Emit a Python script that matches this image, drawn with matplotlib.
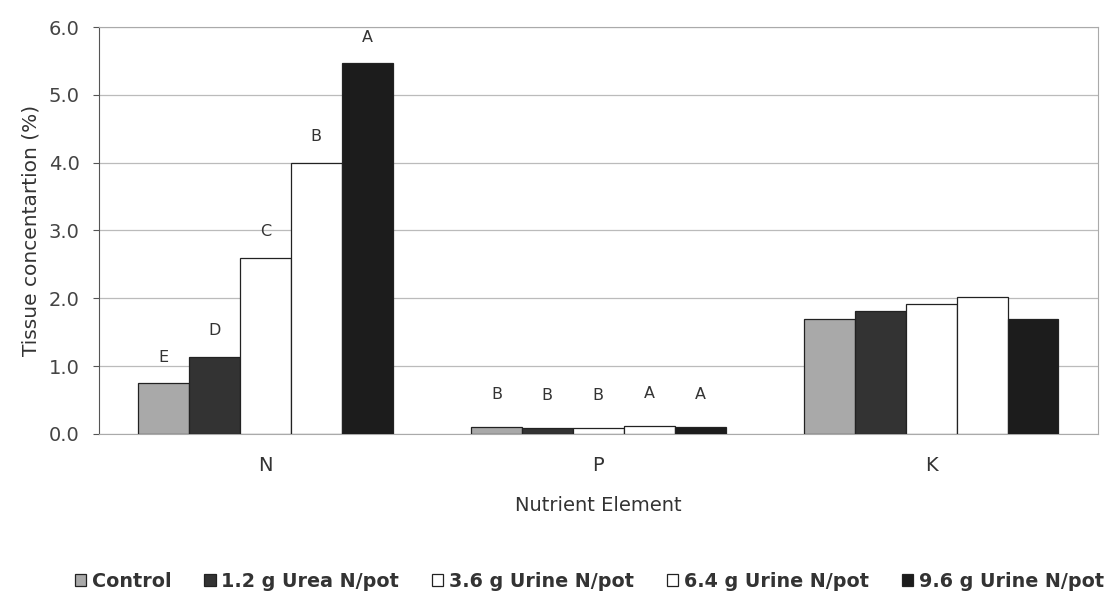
import matplotlib
matplotlib.use("Agg")
import matplotlib.pyplot as plt
import numpy as np

plt.rcParams['font.family'] = ['DejaVu Sans']

elements = ["N", "P", "K"]
series_names = ["Control", "1.2 g Urea N/pot", "3.6 g Urine N/pot",
                "6.4 g Urine N/pot", "9.6 g Urine N/pot"]
control = [0.75, 0.10, 1.69]
urea_12 = [1.14, 0.09, 1.81]
urine_36 = [2.60, 0.08, 1.92]
urine_64 = [4.00, 0.11, 2.02]
urine_96 = [5.47, 0.10, 1.70]
letters_N = ["E", "D", "C", "B", "A"]
letters_P = ["B", "B", "B", "A", "A"]
yticks = [0.0, 1.0, 2.0, 3.0, 4.0, 5.0, 6.0]

series = [control, urea_12, urine_36, urine_64, urine_96]
colors = ["#a9a9a9", "#333333", "#ffffff", "#ffffff", "#1c1c1c"]

fig = plt.figure(figsize=(11.12, 6.01), dpi=100)
ax = fig.add_axes([0.089, 0.278, 0.898, 0.677])

x = np.arange(len(elements))
w = 0.153
for j, (vals, c) in enumerate(zip(series, colors)):
    ax.bar(x + (j - 2) * w, vals, width=w, color=c, edgecolor="#222222",
           linewidth=0.9, label=series_names[j], zorder=3)

for j in range(5):
    ax.text(x[0] + (j - 2) * w, series[j][0] + 0.38, letters_N[j],
            ha="center", va="center", fontsize=11.5, color="#333333")
    ax.text(x[1] + (j - 2) * w, series[j][1] + 0.48, letters_P[j],
            ha="center", va="center", fontsize=11.5, color="#333333")

ax.set_xlim(-0.5, 2.5)
ax.set_ylim(0, 6.0)
ax.set_yticks(yticks)
ax.set_yticklabels([f"{t:.1f}" for t in yticks], fontsize=14, color="#444444")
ax.set_xticks(x)
ax.set_xticklabels(elements, fontsize=14, color="#333333")
ax.tick_params(axis="x", length=0, pad=16)
ax.tick_params(axis="y", length=4, color="#555555", pad=10)
ax.grid(axis="y", color="#bbbbbb", linewidth=0.9, zorder=0)
for s in ["top", "right", "bottom"]:
    ax.spines[s].set_color("#aaaaaa")
ax.spines["left"].set_color("#555555")
ax.set_ylabel("Tissue concentartion (%)", fontsize=14.5, color="#333333", labelpad=6)
ax.set_xlabel("Nutrient Element", fontsize=14, color="#333333", labelpad=15)

leg = fig.legend(loc="center", bbox_to_anchor=(0.530, 0.033), ncol=5, frameon=False,
                 prop={"weight": "bold", "size": 13.8}, handlelength=0.6,
                 handleheight=0.6, handletextpad=0.3, columnspacing=1.7)
for t in leg.get_texts():
    t.set_color("#333333")

fig.savefig("out.png", dpi=100)
